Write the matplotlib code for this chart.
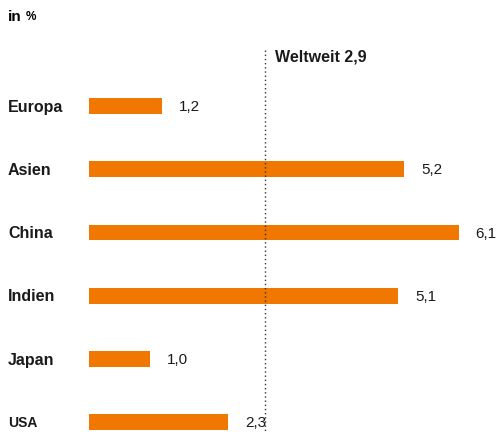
import matplotlib.pyplot as plt

# Daten
laender = ["Europa", "Asien", "China", "Indien", "Japan", "USA"]
werte = [1.2, 5.2, 6.1, 5.1, 1.0, 2.3]
weltweit = 2.9

orange = "#F07800"
plt.rcParams["font.family"] = ["Liberation Sans", "DejaVu Sans"]

fig = plt.figure(figsize=(4.98, 4.33), dpi=100)
ax = fig.add_axes([0, 0, 1, 1])

px = 60.6      # pixel pro prozentpunkt
step = 63.2    # pixel pro balken
ax.set_xlim(-89 / px, (498 - 89) / px)
ax.set_ylim((433 - 106) / step, -106 / step)
ax.axis("off")

y = list(range(len(laender)))
ax.barh(y, werte, height=0.25, color=orange, left=0)

for i, (name, w) in enumerate(zip(laender, werte)):
    fs = 10 if name == "USA" else 11.5
    ax.text(8 / 498, i + 0.02, name, transform=ax.get_yaxis_transform(), fontsize=fs,
            fontweight="bold", va="center", ha="left", color="#1a1a1a")
    ax.text(w + 17 / px, i + 0.02, f"{w:.1f}".replace(".", ","), fontsize=11,
            va="center", ha="left", color="#1a1a1a")

# Weltweit-Linie
ax.plot([weltweit, weltweit], [(50 - 106) / step, (433 - 106) / step],
        linestyle=(0, (1, 2)), color="#333333", lw=1)
ax.text(weltweit + 10 / px, (57 - 106) / step, "Weltweit " + f"{weltweit:.1f}".replace(".", ","),
        fontsize=11.5, fontweight="bold", va="center", ha="left", color="#1a1a1a")

fig.text(8 / 498, 1 - 17 / 433, "in", fontsize=11, fontweight="bold", va="center", ha="left")
fig.text(26 / 498, 1 - 17.5 / 433, "%", fontsize=8.5, fontweight="bold", va="center", ha="left")

fig.savefig("out.png", dpi=100)
